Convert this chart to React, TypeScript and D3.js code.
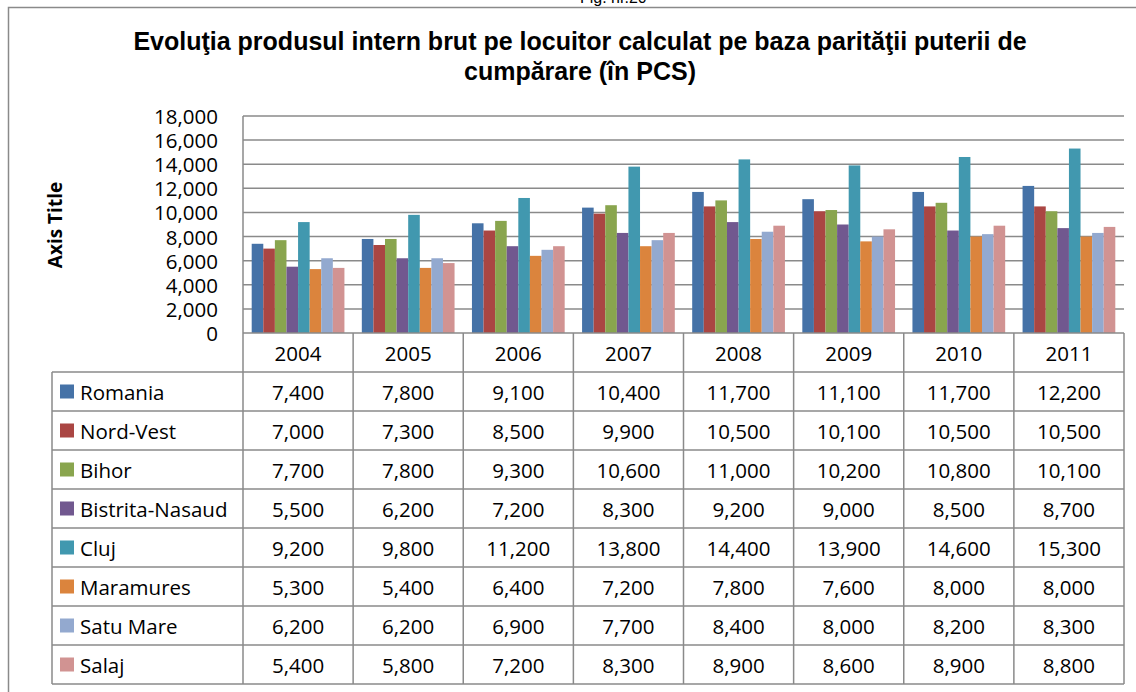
import React from 'react'
import * as d3 from 'd3'

// values (PCS per capita)
const years = ['2004', '2005', '2006', '2007', '2008', '2009', '2010', '2011']
const regions = ['Romania', 'Nord-Vest', 'Bihor', 'Bistrita-Nasaud', 'Cluj', 'Maramures', 'Satu Mare', 'Salaj']
const colors = ['#4572A7', '#AA4643', '#89A54E', '#71588F', '#4198AF', '#DB843D', '#93A9CF', '#D19392']

const romania = [7400, 7800, 9100, 10400, 11700, 11100, 11700, 12200]
const nordVest = [7000, 7300, 8500, 9900, 10500, 10100, 10500, 10500]
const bihor = [7700, 7800, 9300, 10600, 11000, 10200, 10800, 10100]
const bistrita = [5500, 6200, 7200, 8300, 9200, 9000, 8500, 8700]
const cluj = [9200, 9800, 11200, 13800, 14400, 13900, 14600, 15300]
const maramures = [5300, 5400, 6400, 7200, 7800, 7600, 8000, 8000]
const satuMare = [6200, 6200, 6900, 7700, 8400, 8000, 8200, 8300]
const salaj = [5400, 5800, 7200, 8300, 8900, 8600, 8900, 8800]

const seriesValues = [romania, nordVest, bihor, bistrita, cluj, maramures, satuMare, salaj]
const yTicks = [0, 2000, 4000, 6000, 8000, 10000, 12000, 14000, 16000, 18000]

const titleLines = ['Evoluţia produsul intern brut pe locuitor calculat pe baza parităţii puterii de', 'cumpărare (în PCS)']

const W = 1136
const H = 692

const App = () => {
    const plotLeft = 243
    const plotRight = 1124
    const plotTop = 116
    const plotBottom = 333
    const headerBottom = 372
    const rowH = 39
    const tableLeft = 52
    const tableBottom = headerBottom + rowH * regions.length

    const x = d3.scaleBand().domain(years).range([plotLeft, plotRight])
    const xInner = d3.scaleBand().domain(regions).range([0, x.bandwidth()]).paddingOuter(0.75)
    const y = d3.scaleLinear().domain([0, 18000]).range([plotBottom, plotTop])
    const fmt = d3.format(',')

    const lineColor = '#8a8a8a'
    const font = "'Open Sans', 'Noto Sans', sans-serif"

    return (
        <svg width={W} height={H} style={{ position: 'absolute', left: 0, top: 0, background: '#fff' }}>
            <rect x={0} y={0} width={W} height={H} fill="#fff" />
            {/* figure caption, cut off at the top like in the source */}
            <text x={580} y={3} fontFamily="'Liberation Sans', Arial, sans-serif" fontSize={16} fill="#000">Fig. nr.20</text>
            {/* chart border */}
            <rect x={8.5} y={7.5} width={W + 20} height={H + 20} fill="none" stroke={lineColor} strokeWidth={1.5} />

            {titleLines.map((t, i) => (
                <text key={i} x={580} y={50 + i * 30} textAnchor="middle"
                    fontFamily="'Liberation Sans', Arial, sans-serif" fontWeight="bold" fontSize={25} fill="#000">{t}</text>
            ))}

            {/* gridlines */}
            {yTicks.filter(d => d > 0).map(d => (
                <line key={d} x1={plotLeft} x2={plotRight} y1={y(d)} y2={y(d)} stroke={lineColor} strokeWidth={1.5} />
            ))}

            {/* y tick labels */}
            {yTicks.map(d => (
                <text key={d} x={218} y={y(d)} textAnchor="end" dominantBaseline="central"
                    fontFamily={font} fontSize={20.5} fill="#000">{fmt(d)}</text>
            ))}

            <text transform={`translate(55, 225) rotate(-90)`} textAnchor="middle" dominantBaseline="central"
                fontFamily={font} fontWeight="bold" fontSize={19} fill="#000">Axis Title</text>

            {/* bars */}
            {seriesValues.map((vals, si) => (
                <g key={regions[si]} fill={colors[si]}>
                    {vals.map((v, yi) => (
                        <rect key={yi}
                            x={(x(years[yi]) || 0) + (xInner(regions[si]) || 0)}
                            y={y(v)}
                            width={xInner.bandwidth()}
                            height={y(0) - y(v)} />
                    ))}
                </g>
            ))}

            {/* data table */}
            <g stroke={lineColor} strokeWidth={1.5}>
                <line x1={plotLeft} x2={plotRight} y1={plotBottom} y2={plotBottom} />
                <line x1={plotLeft} x2={plotLeft} y1={plotTop} y2={tableBottom} />
                {years.map(yr => (
                    <line key={yr} x1={(x(yr) || 0) + x.bandwidth()} x2={(x(yr) || 0) + x.bandwidth()} y1={plotBottom} y2={tableBottom} />
                ))}
                <line x1={tableLeft} x2={tableLeft} y1={headerBottom} y2={tableBottom} />
                {d3.range(regions.length + 1).map(i => (
                    <line key={i} x1={tableLeft} x2={plotRight} y1={headerBottom + i * rowH} y2={headerBottom + i * rowH} />
                ))}
            </g>

            {years.map(yr => (
                <text key={yr} x={(x(yr) || 0) + x.bandwidth() / 2} y={(plotBottom + headerBottom) / 2}
                    textAnchor="middle" dominantBaseline="central" fontFamily={font} fontSize={20.5} fill="#000">{yr}</text>
            ))}

            {regions.map((r, si) => {
                const cy = headerBottom + si * rowH + rowH / 2
                return (
                    <g key={r}>
                        <rect x={60} y={cy - 7} width={14} height={14} fill={colors[si]} />
                        <text x={80} y={cy} dominantBaseline="central" fontFamily={font} fontSize={20.5} fill="#000">{r}</text>
                        {seriesValues[si].map((v, yi) => (
                            <text key={yi} x={(x(years[yi]) || 0) + x.bandwidth() / 2} y={cy}
                                textAnchor="middle" dominantBaseline="central" fontFamily={font} fontSize={20.5} fill="#000">{fmt(v)}</text>
                        ))}
                    </g>
                )
            })}
        </svg>
    )
}

export default App
